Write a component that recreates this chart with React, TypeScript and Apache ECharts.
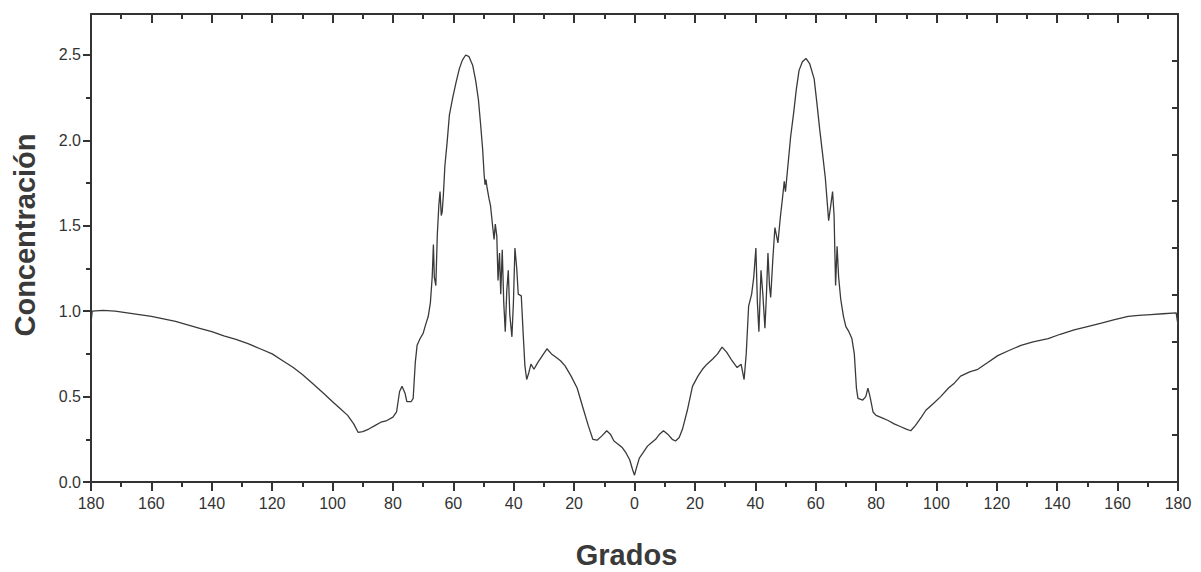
import React, { useEffect, useRef } from "react";
import * as echarts from "echarts";

// Angle (degrees, left half negative, shown as absolute value) and concentration
const tailLeft: number[][] = [
  [-180, 0.93], [-179.6, 1.0], [-176, 1.005], [-172, 1.0], [-168, 0.99], [-164, 0.98],
  [-160, 0.97], [-156, 0.955], [-152, 0.94], [-148, 0.92], [-144, 0.9], [-140, 0.88],
  [-136, 0.855], [-132, 0.835], [-128, 0.81], [-124, 0.78], [-120, 0.75], [-116.5, 0.71],
  [-113, 0.67], [-110, 0.63], [-106.5, 0.575], [-103, 0.52], [-100, 0.47], [-97.5, 0.43],
  [-95, 0.39], [-93, 0.34], [-91.5, 0.29], [-90, 0.295], [-88, 0.31], [-86, 0.33],
  [-84, 0.35], [-82, 0.36], [-80, 0.38], [-78.8, 0.41], [-77.8, 0.53], [-77, 0.56],
  [-76, 0.52], [-75.4, 0.47], [-74, 0.47], [-73.3, 0.49],
];

const peakLeft: number[][] = [
  [-72.6, 0.7], [-72, 0.8], [-71, 0.84], [-70, 0.87], [-69.2, 0.92], [-68.3, 0.97],
  [-67.6, 1.05], [-67, 1.2], [-66.6, 1.39], [-66.3, 1.2], [-65.8, 1.15], [-65.3, 1.45],
  [-64.8, 1.62], [-64.4, 1.7], [-64, 1.56], [-63.7, 1.58], [-63.3, 1.68], [-62.8, 1.85],
  [-62, 2.0], [-61.3, 2.15], [-60.2, 2.25], [-59.1, 2.34], [-58, 2.42], [-57, 2.47],
  [-55.9, 2.5], [-54.8, 2.49], [-53.6, 2.44], [-52.6, 2.35], [-51.7, 2.24], [-51, 2.1],
  [-50.3, 1.95], [-49.8, 1.8], [-49.5, 1.74], [-49.2, 1.77], [-48.8, 1.72], [-48.2, 1.66],
  [-47.7, 1.62], [-47, 1.5], [-46.5, 1.42], [-46.1, 1.51], [-45.6, 1.44], [-45.2, 1.18],
  [-44.7, 1.34], [-44.3, 1.1], [-43.8, 1.36], [-43.3, 1.05], [-42.8, 0.88], [-42.3, 1.12],
  [-41.8, 1.24], [-41.3, 0.98], [-40.6, 0.85], [-40.1, 1.05], [-39.6, 1.37], [-39, 1.25],
  [-38.5, 1.1], [-37.5, 1.09], [-36.9, 0.88], [-36.3, 0.68], [-35.7, 0.6],
];

const center: number[][] = [
  [-35, 0.64], [-34.3, 0.69], [-33.3, 0.66], [-32, 0.7], [-30.5, 0.74], [-29, 0.78],
  [-27.5, 0.75], [-26, 0.73], [-24.5, 0.71], [-23, 0.68], [-21, 0.62], [-19, 0.55],
  [-17, 0.43], [-15.3, 0.33], [-13.8, 0.25], [-12.4, 0.245], [-10.8, 0.27], [-9.2, 0.3],
  [-8, 0.28], [-6.8, 0.24], [-5.3, 0.22], [-4, 0.2], [-2.8, 0.17], [-1.6, 0.13],
  [-0.6, 0.07], [0, 0.04], [0.6, 0.08], [1.6, 0.14], [2.8, 0.17], [4.3, 0.21],
  [5.6, 0.23], [7, 0.25], [8.3, 0.28], [9.6, 0.3], [11, 0.28], [12.5, 0.25],
  [13.6, 0.24], [14.8, 0.26], [15.9, 0.31], [17.5, 0.42], [19.2, 0.56], [21, 0.62],
  [22.5, 0.66], [24, 0.69], [25.9, 0.72], [27.5, 0.75], [29, 0.79], [30.5, 0.76],
  [32.3, 0.71], [34, 0.67], [35.3, 0.69], [36.3, 0.6],
];

const peakRight: number[][] = [
  [37, 0.75], [37.8, 1.03], [38.8, 1.1], [39.5, 1.2], [40.2, 1.37], [40.7, 1.05],
  [41.2, 0.88], [41.9, 1.24], [42.5, 1.1], [43.2, 0.9], [43.7, 1.1], [44.2, 1.34],
  [44.7, 1.15], [45.1, 1.08], [45.8, 1.3], [46.5, 1.49], [47.5, 1.4], [48.3, 1.55],
  [49, 1.66], [49.6, 1.76], [50, 1.7], [50.8, 1.85], [51.7, 2.02], [52.7, 2.16],
  [53.6, 2.3], [54.5, 2.41], [55.6, 2.46], [56.8, 2.48], [58, 2.45], [59.5, 2.36],
  [60.4, 2.22], [61.3, 2.07], [62.3, 1.92], [63.2, 1.78], [64.3, 1.53], [65, 1.62],
  [65.6, 1.7], [66.1, 1.56], [66.6, 1.15], [67.1, 1.38], [67.6, 1.2], [68.3, 1.07],
  [69.2, 0.97], [70, 0.91], [71, 0.88], [72, 0.84], [72.8, 0.75], [73.5, 0.55],
  [74, 0.49], [75.6, 0.48],
];

const tailRight: number[][] = [
  [76.6, 0.5], [77.3, 0.55], [78, 0.5], [79, 0.41], [80, 0.39], [82, 0.375],
  [84, 0.36], [86, 0.34], [88, 0.325], [90, 0.31], [91.5, 0.3], [93, 0.33],
  [95, 0.38], [96.5, 0.42], [99, 0.46], [101.4, 0.5], [104, 0.55], [106, 0.58],
  [108, 0.62], [111, 0.645], [113.7, 0.66], [117, 0.7], [120.3, 0.74], [124, 0.77],
  [128, 0.8], [132, 0.82], [137, 0.84], [141, 0.865], [145.6, 0.89], [150, 0.91],
  [154.6, 0.93], [159, 0.95], [163.5, 0.97], [167, 0.975], [171, 0.98], [175, 0.985],
  [179.4, 0.99], [180, 0.92],
];

const yMajorTicks: number[] = [0, 0.5, 1.0, 1.5, 2.0, 2.5];
const yMinorTicks: number[] = [0.25, 0.75, 1.25, 1.75, 2.25];

const xName = "Grados";
const yName = "Concentración";

const INK = "#333333";
const FONT = "'Liberation Sans', Arial, sans-serif";

export default function App() {
  const ref = useRef<HTMLDivElement>(null);
  useEffect(() => {
    if (!ref.current) return;
    const chart = echarts.init(ref.current, null, { renderer: "svg" });
    const data = [...tailLeft, ...peakLeft, ...center, ...peakRight, ...tailRight];
    const xCommon = {
      type: "value",
      min: -180,
      max: 180,
      interval: 20,
      splitLine: { show: false },
      axisLine: { show: true, onZero: false, lineStyle: { color: INK, width: 2 } },
    };
    chart.setOption({
      animation: false,
      backgroundColor: "#ffffff",
      textStyle: { fontFamily: FONT },
      grid: { left: 91, right: 23, top: 14, bottom: 90, containLabel: false, outerBoundsMode: "none" },
      xAxis: [
        {
          ...xCommon,
          position: "bottom",
          name: xName,
          nameLocation: "middle",
          nameGap: 58,
          nameTextStyle: { fontSize: 29, fontWeight: "bold", color: "#3a3a3a", fontFamily: FONT, padding: [0, 16, 0, 0] },
          axisTick: { show: true, inside: false, length: 9, lineStyle: { color: INK, width: 2 } },
          minorTick: { show: true, splitNumber: 2, length: 5, lineStyle: { color: INK, width: 2 } },
          axisLabel: {
            margin: 13,
            fontSize: 16,
            color: INK,
            fontFamily: FONT,
            formatter: (v: number) => String(Math.abs(v)),
          },
        },
        {
          ...xCommon,
          position: "top",
          axisTick: { show: true, inside: true, length: 9, lineStyle: { color: INK, width: 2 } },
          minorTick: { show: true, splitNumber: 2, length: 5, lineStyle: { color: INK, width: 2 } },
          axisLabel: { show: false },
        },
      ],
      yAxis: [
        {
          type: "value",
          min: 0,
          max: 2.74,
          position: "left",
          name: yName,
          nameLocation: "middle",
          nameGap: 52,
          nameTextStyle: { fontSize: 29, fontWeight: "bold", color: "#3a3a3a", fontFamily: FONT, padding: [0, 0, 0, 26] },
          splitLine: { show: false },
          axisLine: { show: true, onZero: false, lineStyle: { color: INK, width: 2 } },
          axisTick: { show: true, inside: false, length: 8, customValues: yMajorTicks, lineStyle: { color: INK, width: 2 } },
          axisLabel: {
            margin: 10,
            fontSize: 16,
            color: INK,
            fontFamily: FONT,
            customValues: yMajorTicks,
            formatter: (v: number) => v.toFixed(1),
          },
        },
        {
          type: "value",
          min: 0,
          max: 2.74,
          position: "left",
          splitLine: { show: false },
          axisLine: { show: false, onZero: false },
          axisTick: { show: true, inside: false, length: 5, customValues: yMinorTicks, lineStyle: { color: INK, width: 2 } },
          axisLabel: { show: false },
        },
        {
          type: "value",
          min: 0,
          max: 10,
          interval: 1,
          position: "right",
          splitLine: { show: false },
          axisLine: { show: true, onZero: false, lineStyle: { color: INK, width: 2 } },
          axisTick: { show: true, inside: true, length: 6, lineStyle: { color: INK, width: 2 } },
          axisLabel: { show: false },
        },
      ],
      series: [
        {
          type: "line",
          name: yName,
          xAxisIndex: 0,
          yAxisIndex: 0,
          data,
          showSymbol: false,
          symbol: "none",
          lineStyle: { color: "#3a3a3a", width: 1.3 },
        },
      ],
    });
    return () => chart.dispose();
  }, []);
  return (
    <div
      ref={ref}
      style={{ position: "fixed", left: 0, top: 0, width: 1201, height: 572, background: "#fff" }}
    />
  );
}
